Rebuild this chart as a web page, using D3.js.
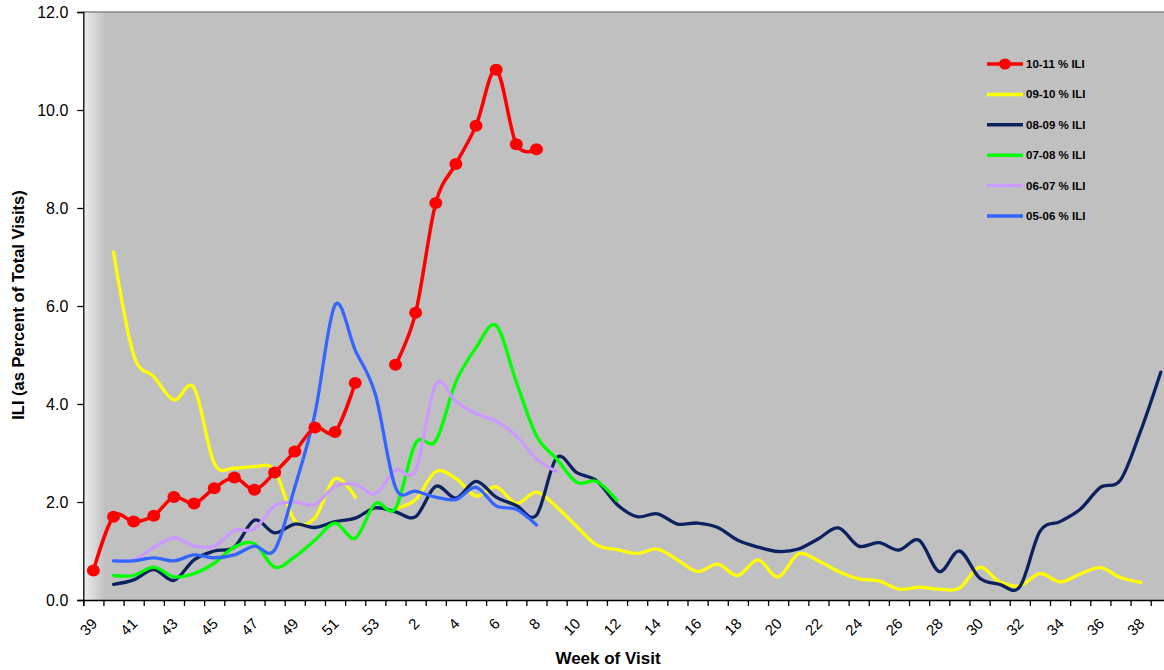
<!DOCTYPE html>
<html><head><meta charset="utf-8">
<script src="https://cdn.jsdelivr.net/npm/d3@7"></script>
<style>body{margin:0;background:#fff}svg{display:block}</style>
</head><body><svg id="c" width="1164" height="670"></svg>
<script>
// ---- data ----
const weeks = [39,40,41,42,43,44,45,46,47,48,49,50,51,52,53,
  1,2,3,4,5,6,7,8,9,10,11,12,13,14,15,16,17,18,19,20,21,22,23,24,25,26,27,28,29,30,31,32,33,34,35,36,37,38,39];
const yTicks = [0,2,4,6,8,10,12];
const seriesNames = ["10-11 % ILI","09-10 % ILI","08-09 % ILI","07-08 % ILI","06-07 % ILI","05-06 % ILI"];
const seriesColors = ["#FF0000","#FFFF00","#0C2160","#00FF00","#CC99FF","#3366FF"];
const ili1011 = [0.6,1.7,1.6,1.72,2.1,1.97,2.28,2.5,2.25,2.6,3.03,3.52,3.43,4.43,null,
  4.8,5.86,8.1,8.9,9.68,10.82,9.3,9.2];
const ili0910 = [null,7.1,5.0,4.56,4.08,4.33,2.79,2.69,2.72,2.65,1.62,1.68,2.48,2.1,null,
  1.87,2.05,2.62,2.48,2.12,2.31,1.97,2.2,1.9,1.5,1.12,1.03,0.95,1.04,0.82,0.58,0.73,0.5,0.82,0.47,
  0.94,0.8,0.58,0.43,0.39,0.22,0.26,0.22,0.24,0.67,0.37,0.29,0.54,0.37,0.53,0.66,0.46,0.36];
const ili0809 = [null,0.32,0.41,0.62,0.4,0.82,1.0,1.08,1.63,1.37,1.55,1.48,1.6,1.67,1.88,
  1.8,1.7,2.32,2.08,2.42,2.1,1.93,1.73,2.9,2.6,2.43,1.95,1.7,1.76,1.55,1.57,1.48,1.22,1.08,0.99,
  1.04,1.25,1.47,1.1,1.17,1.02,1.22,0.58,1.0,0.45,0.32,0.27,1.4,1.6,1.85,2.3,2.45,3.45,4.65];
const ili0708 = [null,0.5,0.5,0.67,0.47,0.54,0.75,1.08,1.15,0.67,0.88,1.22,1.57,1.26,1.97,
  1.87,3.2,3.25,4.45,5.15,5.6,4.45,3.35,2.88,2.4,2.42,2.03];
const ili0607 = [null,0.8,0.82,1.07,1.27,1.1,1.1,1.42,1.45,1.92,2.0,1.95,2.32,2.36,2.17,
  2.65,2.65,4.4,4.05,3.8,3.65,3.35,2.88,2.62];
const ili0506 = [null,0.8,0.8,0.86,0.8,0.92,0.86,0.92,1.1,1.02,2.3,3.8,6.02,5.1,4.2,
  2.3,2.22,2.1,2.05,2.3,1.92,1.85,1.53];
const seriesValues = [ili1011, ili0910, ili0809, ili0708, ili0607, ili0506];

// ---- layout ----
const svg = d3.select("#c");
const pL = 83.3, pT = 12, pB = 600, step = 20.14;
const idx = d3.range(weeks.length);
const x = d3.scaleBand().domain(idx).range([pL, pL + step * weeks.length]);
const xb = d3.scaleLinear().domain([0, weeks.length]).range([pL, pL + step * weeks.length]);
const y = d3.scaleLinear().domain([0, 12]).range([pB, pT]);

const defs = svg.append("defs");
const g = defs.append("linearGradient").attr("id","bg").attr("x1","0").attr("x2","1").attr("y1","0").attr("y2","0");
g.append("stop").attr("offset","0").attr("stop-color","#eeeeee");
g.append("stop").attr("offset","0.02").attr("stop-color","#c0c0c0");
g.append("stop").attr("offset","1").attr("stop-color","#c0c0c0");
defs.append("clipPath").attr("id","clip").append("rect")
  .attr("x", pL).attr("y", pT - 5).attr("width", step * weeks.length).attr("height", pB - pT + 5);

svg.append("rect").attr("x", pL).attr("y", pT).attr("width", step * weeks.length).attr("height", pB - pT)
  .attr("fill","url(#bg)");
svg.append("line").attr("x1", pL).attr("x2", pL + step * weeks.length).attr("y1", pT).attr("y2", pT)
  .attr("stroke","#8a8a8a").attr("stroke-width",1.5);

// y axis
const ya = svg.append("g").attr("transform",`translate(${pL},0)`)
  .call(d3.axisLeft(y).tickValues(yTicks).tickFormat(d3.format(".1f")).tickSize(6).tickPadding(9));
ya.selectAll("text").attr("font-family","'Liberation Sans',Arial,sans-serif").attr("font-size","16px").attr("fill","#000");
ya.selectAll("line,path").attr("stroke","#000").attr("stroke-width",1.3);

// x axis ticks at boundaries
const xa = svg.append("g").attr("transform",`translate(0,${pB})`)
  .call(d3.axisBottom(xb).tickValues(d3.range(0, weeks.length + 1)).tickFormat("").tickSize(6));
xa.selectAll("line,path").attr("stroke","#000").attr("stroke-width",1.3);
// x labels
const xl = svg.append("g").attr("transform",`translate(0,${pB})`)
  .call(d3.axisBottom(x).tickValues(idx.filter(i => i % 2 === 0 && i < weeks.length - 1)).tickFormat(i => weeks[i]).tickSize(0));
xl.select(".domain").remove();
xl.selectAll(".tick text")
  .attr("font-family","'Liberation Sans',Arial,sans-serif").attr("font-size","15px").attr("fill","#000")
  .attr("text-anchor","end").attr("y",0).attr("dy","0.35em")
  .attr("transform","translate(1,21) rotate(-45)");

// titles
svg.append("text").attr("x", 608).attr("y", 664).attr("text-anchor","middle")
  .attr("font-family","'Liberation Sans',Arial,sans-serif").attr("font-weight","bold").attr("font-size","17px")
  .text("Week of Visit");
svg.append("text").attr("transform","translate(24,305) rotate(-90)").attr("text-anchor","middle")
  .attr("font-family","'Liberation Sans',Arial,sans-serif").attr("font-weight","bold").attr("font-size","16.5px")
  .text("ILI (as Percent of Total Visits)");

// lines
const line = d3.line().defined(d => d.v != null).x(d => x(d.i) + x.bandwidth() / 2).y(d => y(d.v))
  .curve(d3.curveCatmullRom.alpha(0));
const plot = svg.append("g").attr("clip-path","url(#clip)");
const drawOrder = [1,2,3,4,5,0];
drawOrder.forEach(s => {
  const pts = seriesValues[s].map((v,i) => ({i, v}));
  plot.append("path").datum(pts).attr("d", line).attr("fill","none")
    .attr("stroke", seriesColors[s]).attr("stroke-width", s === 0 ? 3.5 : 3.3)
    .attr("stroke-linejoin","round").attr("stroke-linecap","round");
  if (s === 0) {
    plot.selectAll("ellipse.mk").data(pts.filter(d => d.v != null)).join("ellipse").attr("class","mk")
      .attr("cx", d => x(d.i) + x.bandwidth() / 2).attr("cy", d => y(d.v)).attr("rx", 6.5).attr("ry", 6)
      .attr("fill", seriesColors[0]);
  }
});

// legend
const lg = svg.append("g");
seriesNames.forEach((n, k) => {
  const yy = 64 + k * 30.4;
  lg.append("line").attr("x1", 987).attr("x2", 1023).attr("y1", yy).attr("y2", yy)
    .attr("stroke", seriesColors[k]).attr("stroke-width", 3.5);
  if (k === 0) lg.append("ellipse").attr("cx", 1005).attr("cy", yy).attr("rx", 6).attr("ry", 5.5).attr("fill", seriesColors[0]);
  lg.append("text").attr("x", 1026).attr("y", yy).attr("dy","0.35em")
    .attr("font-family","'Liberation Sans',Arial,sans-serif").attr("font-weight","bold").attr("font-size","11.5px")
    .attr("fill","#000").text(n);
});
</script></body></html>
